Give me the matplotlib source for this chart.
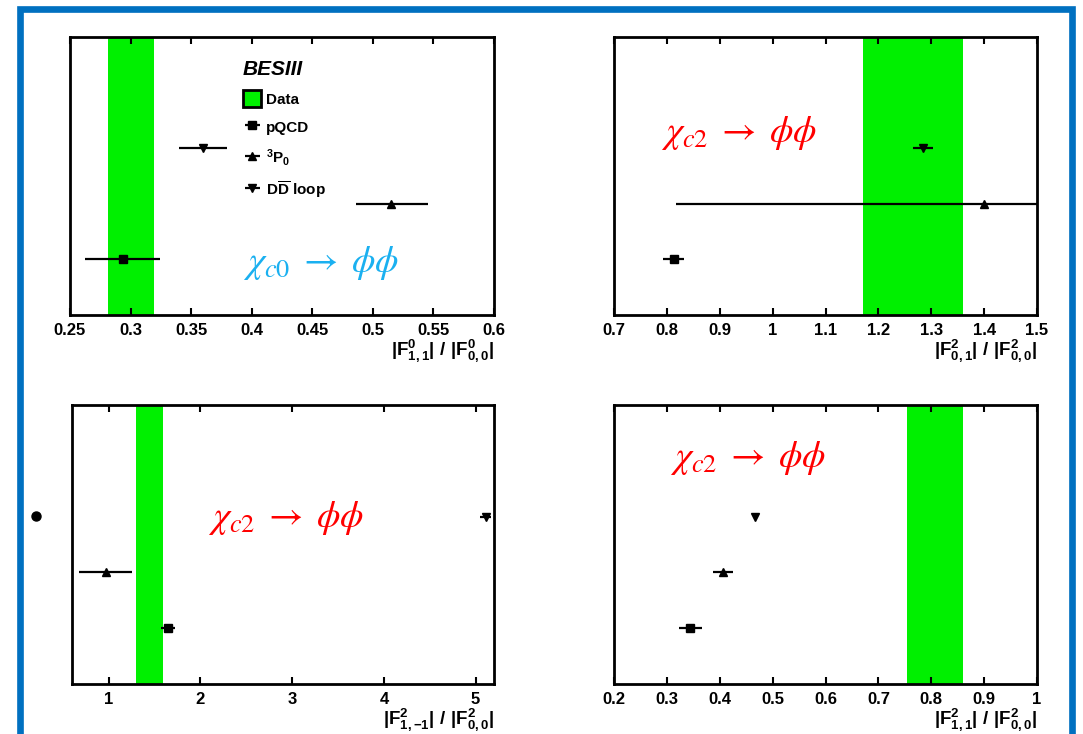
import matplotlib
matplotlib.use('Agg')
import matplotlib.pyplot as plt
from matplotlib.patches import Patch, Rectangle
from matplotlib.lines import Line2D
from matplotlib.ticker import MultipleLocator, FormatStrFormatter

plt.rcParams['font.family'] = 'Liberation Sans'
plt.rcParams['mathtext.fontset'] = 'custom'
plt.rcParams['mathtext.rm'] = 'Liberation Sans:bold'
plt.rcParams['mathtext.bf'] = 'Liberation Sans:bold'
plt.rcParams['mathtext.it'] = 'Liberation Sans:bold:italic'
plt.rcParams['mathtext.default'] = 'it'

# model order: pQCD, 3P0, DDbar loop (rows 1, 2, 3)
models = ['pQCD', r'$^{3}\mathrm{P}_{0}$', r'D$\overline{\mathrm{D}}$ loop']
model_rows = [1, 2, 3]
model_markers = ['s', '^', 'v']

# chi_c0: |F0_11| / |F0_00|
c0_f11_val = [0.294, 0.515, 0.360]
c0_f11_lo = [0.2625, 0.486, 0.340]
c0_f11_hi = [0.3245, 0.5455, 0.380]
c0_f11_data = [0.281, 0.319]

# chi_c2: |F2_01| / |F2_00|
c2_f01_val = [0.813, 1.400, 1.284]
c2_f01_lo = [0.793, 0.818, 1.265]
c2_f01_hi = [0.832, 1.980, 1.304]
c2_f01_data = [1.17, 1.36]

# chi_c2: |F2_1-1| / |F2_00|
c2_f1m1_val = [1.646, 0.970, 5.110]
c2_f1m1_lo = [1.570, 0.673, 5.050]
c2_f1m1_hi = [1.720, 1.251, 5.170]
c2_f1m1_data = [1.30, 1.59]

# chi_c2: |F2_11| / |F2_00|
c2_f11_val = [0.344, 0.406, 0.467]
c2_f11_lo = [0.3225, 0.387, 0.467]
c2_f11_hi = [0.367, 0.426, 0.467]
c2_f11_data = [0.755, 0.86]

green = '#00f000'

panels = [
    dict(val=c0_f11_val, lo=c0_f11_lo, hi=c0_f11_hi, band=c0_f11_data,
         xlim=(0.25, 0.6), step=0.05,
         xlabel=r'$|\mathrm{F}^{0}_{1,1}|\ /\ |\mathrm{F}^{0}_{0,0}|$',
         title=r'$\chi_{c0}\;\rightarrow\;\phi\phi$', tcolor='#1ab0f0', tpos=(0.408, 0.187),
         rect=[70 / 1083, 1 - 315 / 734, 424 / 1083, 278 / 734]),
    dict(val=c2_f01_val, lo=c2_f01_lo, hi=c2_f01_hi, band=c2_f01_data,
         xlim=(0.7, 1.5), step=0.1,
         xlabel=r'$|\mathrm{F}^{2}_{0,1}|\ /\ |\mathrm{F}^{2}_{0,0}|$',
         title=r'$\chi_{c2}\;\rightarrow\;\phi\phi$', tcolor='red', tpos=(0.111, 0.655),
         rect=[614 / 1083, 1 - 315 / 734, 423 / 1083, 278 / 734]),
    dict(val=c2_f1m1_val, lo=c2_f1m1_lo, hi=c2_f1m1_hi, band=c2_f1m1_data,
         xlim=(0.6, 5.2), step=1,
         xlabel=r'$|\mathrm{F}^{2}_{1,\mathrm{-}1}|\ /\ |\mathrm{F}^{2}_{0,0}|$',
         title=r'$\chi_{c2}\;\rightarrow\;\phi\phi$', tcolor='red', tpos=(0.322, 0.595),
         rect=[72 / 1083, 1 - 684 / 734, 422 / 1083, 279 / 734]),
    dict(val=c2_f11_val, lo=c2_f11_lo, hi=c2_f11_hi, band=c2_f11_data,
         xlim=(0.2, 1.0), step=0.1,
         xlabel=r'$|\mathrm{F}^{2}_{1,1}|\ /\ |\mathrm{F}^{2}_{0,0}|$',
         title=r'$\chi_{c2}\;\rightarrow\;\phi\phi$', tcolor='red', tpos=(0.132, 0.81),
         rect=[614 / 1083, 1 - 684 / 734, 423 / 1083, 279 / 734]),
]

fig = plt.figure(figsize=(10.83, 7.34), dpi=100)

axes = []
for p in panels:
    ax = fig.add_axes(p['rect'])
    ax.axvspan(p['band'][0], p['band'][1], color=green, lw=0, zorder=0)
    handles = []
    for i in range(len(models)):
        v = p['val'][i]
        err = [[v - p['lo'][i]], [p['hi'][i] - v]]
        h = ax.errorbar([v], [model_rows[i]], xerr=err, fmt=model_markers[i],
                        color='black', ms=6, elinewidth=1.6, capsize=0,
                        label=models[i], zorder=3)
        handles.append(h)
    ax.set_xlim(p['xlim'])
    ax.set_ylim(0, 5)
    ax.set_yticks([])
    ax.xaxis.set_major_locator(MultipleLocator(p['step']))
    ax.xaxis.set_major_formatter(FormatStrFormatter('%g'))
    ax.tick_params(axis='x', direction='in', top=True, length=5, width=1.5,
                   pad=6, labelsize=12)
    for lab in ax.get_xticklabels():
        lab.set_fontweight('bold')
    for s in ax.spines.values():
        s.set_linewidth(2)
    ax.text(1.0, -0.08, p['xlabel'], transform=ax.transAxes, ha='right',
            va='top', fontsize=13.5)
    ax.text(p['tpos'][0], p['tpos'][1], p['title'], transform=ax.transAxes,
            ha='left', va='center', fontsize=27,
            color=p['tcolor'], math_fontfamily='stix')
    axes.append((ax, handles))

# legend in the first panel
ax0, h0 = axes[0]
data_patch = Patch(facecolor=green, edgecolor='black', lw=2, label='Data')
ax0.legend(handles=[data_patch] + h0, loc='upper left',
           bbox_to_anchor=(243 / 1083, 1 - 60 / 734), bbox_transform=fig.transFigure,
           frameon=False, prop={'weight': 'bold', 'size': 11}, title='BESIII',
           alignment='left',
           title_fontproperties={'weight': 'bold', 'style': 'italic', 'size': 15},
           handlelength=1.2, handleheight=1.3, handletextpad=0.3,
           labelspacing=0.75, borderpad=0, borderaxespad=0)

# blue frame around the slide
fig.add_artist(Rectangle((20 / 1083, -0.1), 1051.5 / 1083, 1.1 - 8.5 / 734,
                         transform=fig.transFigure, fill=False,
                         edgecolor='#0070c0', lw=4.8))
# stray bullet on the left
fig.add_artist(Line2D([36 / 1083], [1 - 516 / 734], marker='o', ms=6.5,
                      color='black', transform=fig.transFigure))

fig.savefig('out.png', dpi=100)
